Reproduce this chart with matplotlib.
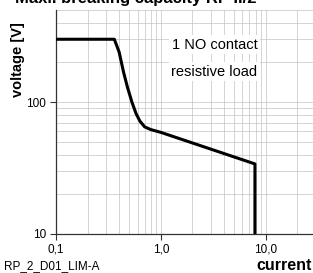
import matplotlib
matplotlib.use("Agg")
import matplotlib.pyplot as plt
import numpy as np

plt.rcParams['font.family'] = ['Liberation Sans', 'DejaVu Sans']

current = [0.1, 0.36, 0.40, 0.44, 0.48, 0.53, 0.58, 0.63, 0.70, 0.80, 1.0, 7.9, 7.9]
voltage = [300, 300, 240, 170, 130, 100, 82, 72, 65, 62, 59, 34, 10]

xticks = [0.1, 1.0, 10.0]
xticklabels = ["0,1", "1,0", "10,0"]
yticks = [10, 100]
yticklabels = ["10", "100"]

W, H = 313, 273
fig = plt.figure(figsize=(W / 100, H / 100), dpi=100)
x0, x1 = 56, 315.7   # 0.1 .. 30
y_bot, y_top = 234, 10
ax = fig.add_axes([x0 / W, 1 - y_bot / H, (x1 - x0) / W, (y_bot - y_top) / H])
ax.set_xscale('log')
ax.set_yscale('log')
ax.set_xlim(0.1, 30)
ax.set_ylim(10, 500)

minor_x = [v * d for d in (0.1, 1, 10) for v in range(2, 10)]
minor_x = [m for m in minor_x if m <= 30]
minor_y = [v * d for d in (10, 100) for v in range(2, 10)]
minor_y = [m for m in minor_y if m <= 500]
ax.set_xticks(minor_x, minor=True)
ax.set_yticks(minor_y, minor=True)
ax.set_xticks(xticks)
ax.set_xticklabels(xticklabels)
ax.set_yticks(yticks)
ax.set_yticklabels(yticklabels)
ax.tick_params(which='minor', length=0, labelbottom=False, labelleft=False)
ax.tick_params(which='major', length=4, width=0.8, labelsize=8.5, color='#333333', pad=3)
ax.grid(True, which='both', color='#c4c4c4', linewidth=0.5)
ax.set_axisbelow(True)
for s in ('top', 'right'):
    ax.spines[s].set_visible(False)
for s in ('left', 'bottom'):
    ax.spines[s].set_color('#333333')
    ax.spines[s].set_linewidth(0.9)

ax.plot(current, voltage, color='black', linewidth=2.2, solid_joinstyle='round', zorder=3)

ax.text(0.61, 0.845, "1 NO contact", transform=ax.transAxes, fontsize=10.5, ha='center', va='center',
        bbox=dict(facecolor='white', edgecolor='none', pad=2), zorder=4)
ax.text(0.61, 0.725, "resistive load", transform=ax.transAxes, fontsize=10.5, ha='center', va='center',
        bbox=dict(facecolor='white', edgecolor='none', pad=2), zorder=4)

fig.text(18 / W, 1 - 60 / H, "voltage [V]", rotation=90, fontsize=10.5, fontweight='bold',
         ha='center', va='center')
fig.text(312 / W, 1 - 265 / H, "current", fontsize=11.5, fontweight='bold', ha='right', va='center')
fig.text(4 / W, 1 - 266 / H, "RP_2_D01_LIM-A", fontsize=8.5, ha='left', va='center')
fig.text(15 / W, 1 - 3 / H, "Maxi. breaking capacity RP II/2", fontsize=12, fontweight='bold',
         ha='left', va='baseline')

fig.savefig("out.png", dpi=100)
